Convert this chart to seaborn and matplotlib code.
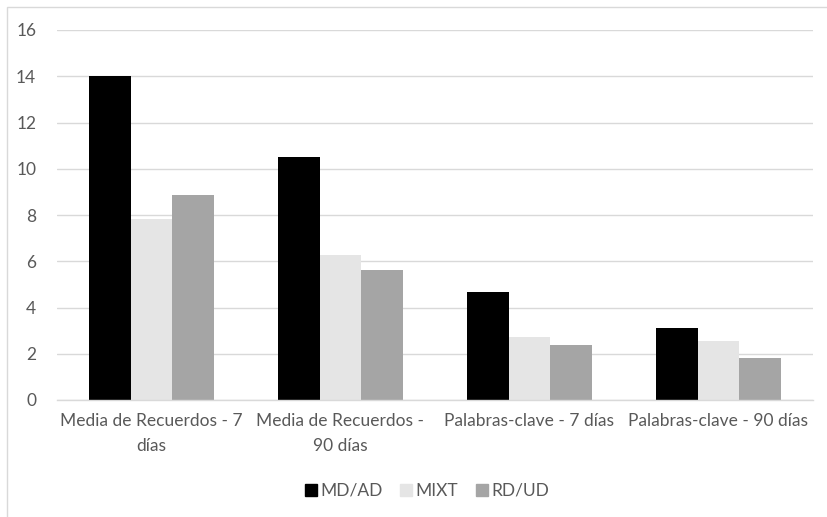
import pandas as pd
import numpy as np
import matplotlib
matplotlib.use('Agg')
import matplotlib.pyplot as plt
import seaborn as sns
from matplotlib.patches import Rectangle

categorias = ['Media de Recuerdos - 7\ndías', 'Media de Recuerdos -\n90 días',
              'Palabras-clave - 7 días', 'Palabras-clave - 90 días']
grupos = ['MD/AD', 'MIXT', 'RD/UD']
md_ad = [14.0, 10.52, 4.68, 3.1]
mixt = [7.84, 6.27, 2.74, 2.55]
rd_ud = [8.86, 5.62, 2.37, 1.8]
colores = ['#000000', '#E5E5E5', '#A5A5A5']

df = pd.DataFrame({
    'categoria': categorias * 3,
    'grupo': [g for g in grupos for _ in categorias],
    'valor': md_ad + mixt + rd_ud,
})

sns.set_theme(style='white')
plt.rcParams['font.family'] = ['Lato', 'DejaVu Sans']

fig = plt.figure(figsize=(8.27, 5.17), dpi=100)
ax = fig.add_axes([57/827, 1 - 400/517, (813 - 57)/827, 370/517])

sns.barplot(data=df, x='categoria', y='valor', hue='grupo', order=categorias,
            hue_order=grupos, palette=colores, width=0.66, saturation=1,
            errorbar=None, ax=ax, legend=False, linewidth=0)

ax.set_ylim(0, 16)
ax.set_xlim(-0.5, 3.5)
ax.set_yticks(np.arange(0, 17, 2))
ax.yaxis.grid(True, color='#D9D9D9', linewidth=1)
ax.set_axisbelow(True)
for s in ['top', 'right', 'left']:
    ax.spines[s].set_visible(False)
ax.spines['bottom'].set_color('#D9D9D9')
ax.spines['bottom'].set_linewidth(1)
ax.set_xlabel('')
ax.set_ylabel('')
ax.tick_params(axis='both', length=0, colors='#595959', labelsize=12.5)
ax.tick_params(axis='y', pad=15)
ax.tick_params(axis='x', pad=9)
for lab in ax.get_xticklabels():
    lab.set_linespacing(1.75)

handles = [Rectangle((0, 0), 1, 1, color=c) for c in colores]
fig.legend(handles, grupos, loc='center', bbox_to_anchor=(427/827, 1 - 491/517),
           ncol=3, frameon=False, handlelength=0.7, handleheight=0.7,
           handletextpad=0.2, columnspacing=1.0, labelcolor='#595959',
           fontsize=12.5)

fig.patches.append(Rectangle((7/827, -0.01), 1, 1 - 7/517 + 0.01, transform=fig.transFigure,
                             fill=False, edgecolor='#D9D9D9', linewidth=1))

fig.savefig('out.png', dpi=100)
